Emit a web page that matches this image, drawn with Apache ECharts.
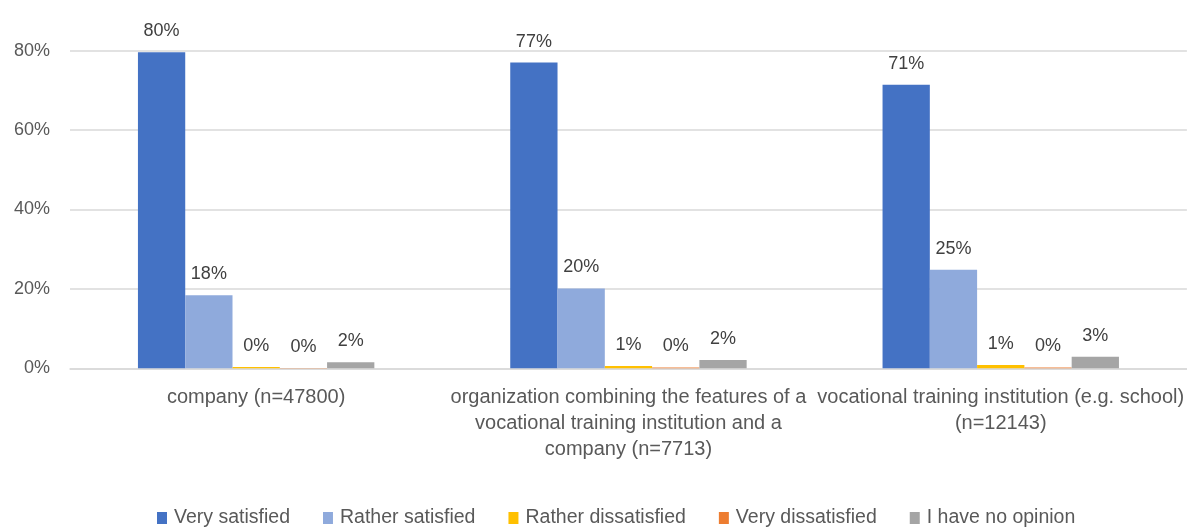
<!DOCTYPE html>
<html>
<head>
<meta charset="utf-8">
<script src="https://cdn.jsdelivr.net/npm/echarts@6/dist/echarts.min.js"></script>
<style>html,body{margin:0;padding:0;background:#fff;}#chart{width:1187px;height:528px;}</style>
</head>
<body>
<div id="chart"></div>
<script>
var categories = [
  "company (n=47800)",
  "organization combining the features of a\nvocational training institution and a\ncompany (n=7713)",
  "vocational training institution (e.g. school)\n(n=12143)"
];
var seriesNames = ["Very satisfied", "Rather satisfied", "Rather dissatisfied", "Very dissatisfied", "I have no opinion"];
var verySatisfied = [79.6, 77.0, 71.4];
var ratherSatisfied = [18.4, 20.1, 24.8];
var ratherDissatisfied = [0.3, 0.6, 0.8];
var veryDissatisfied = [0.1, 0.2, 0.2];
var noOpinion = [1.5, 2.1, 2.9];
var yTicks = [0, 20, 40, 60, 80];

var colors = ["#4472C4", "#8FAADC", "#FFC000", "#ED7D31", "#A5A5A5"];
var allData = [verySatisfied, ratherSatisfied, ratherDissatisfied, veryDissatisfied, noOpinion];
var font = "'Liberation Sans', Arial, sans-serif";

var series = seriesNames.map(function (name, i) {
  return {
    name: name,
    type: "bar",
    data: allData[i],
    barGap: "0%",
    barCategoryGap: "36.5%",
    itemStyle: { color: colors[i] },
    label: {
      show: true,
      position: "top",
      distance: 12,
      color: "#404040",
      fontSize: 18,
      fontFamily: font,
      formatter: function (p) { return Math.round(p.value) + "%"; }
    }
  };
});

var chart = echarts.init(document.getElementById("chart"));
chart.setOption({
  animation: false,
  color: colors,
  grid: { left: 70, right: -1, top: 50.7, bottom: 159.7, containLabel: false },
  legend: {
    data: seriesNames,
    bottom: -5,
    left: 152,
    icon: "rect",
    itemWidth: 10,
    itemHeight: 12,
    itemGap: 33,
    textStyle: { color: "#595959", fontSize: 19.5, fontFamily: font, padding: [0, 0, 0, 2] }
  },
  xAxis: {
    type: "category",
    data: categories,
    axisTick: { show: false },
    axisLine: { lineStyle: { color: "#D9D9D9", width: 1.5 } },
    axisLabel: {
      interval: 0,
      margin: 16,
      color: "#595959",
      fontSize: 20,
      lineHeight: 26,
      fontFamily: font
    }
  },
  yAxis: {
    type: "value",
    min: yTicks[0],
    max: yTicks[yTicks.length - 1],
    interval: 20,
    axisLine: { show: false },
    axisTick: { show: false },
    splitLine: { lineStyle: { color: "#D9D9D9", width: 1.5 } },
    axisLabel: {
      margin: 20,
      color: "#595959",
      fontSize: 18,
      fontFamily: font,
      formatter: "{value}%"
    }
  },
  series: series
});
</script>
</body>
</html>
